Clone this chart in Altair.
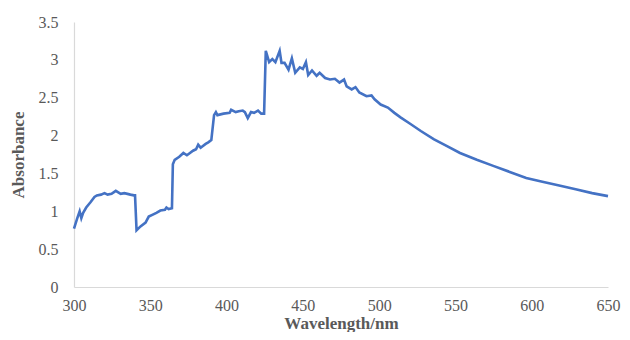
import altair as alt
import pandas as pd

wavelength = [300, 302, 303.7, 304.8, 306, 308, 310.8, 313.4, 315, 317.7, 320, 322, 324.6, 327.4,
              330.6, 333, 335, 337, 339.3, 340, 341, 343.6, 346.9, 349, 352, 354, 356.6, 359.6,
              360.6, 362, 364.2, 364.8, 366, 369, 371.7, 374, 376, 378, 380, 381.4, 383, 386.3,
              388, 390, 391.8, 393, 394, 398, 402, 403, 406, 408, 410.6, 412, 413.9, 416, 418,
              420.6, 422.7, 424.6, 425.7, 427.9, 430, 432, 434.8, 436, 438, 440.6, 442.8, 445,
              448, 450, 452, 453.5, 456, 459, 461, 464.6, 467.8, 471, 474, 477, 478.7, 482,
              484.5, 487, 491.7, 495, 497, 501, 505.7, 510, 514, 520.8, 527.3, 536, 544.5, 553,
              564, 574.8, 585.6, 596.4, 607, 618, 628.8, 639.6, 650]
absorbance = [0.77, 0.90, 1.00, 0.91, 0.98, 1.05, 1.12, 1.19, 1.21, 1.22, 1.24, 1.22, 1.23, 1.27,
              1.23, 1.24, 1.23, 1.22, 1.21, 1.21, 0.75, 0.80, 0.85, 0.93, 0.96, 0.98, 1.01, 1.02,
              1.05, 1.03, 1.04, 1.62, 1.68, 1.72, 1.77, 1.74, 1.77, 1.80, 1.82, 1.88, 1.84, 1.89,
              1.91, 1.94, 2.27, 2.31, 2.27, 2.29, 2.30, 2.34, 2.31, 2.32, 2.33, 2.31, 2.23, 2.31,
              2.30, 2.33, 2.29, 2.29, 3.12, 2.97, 3.01, 2.97, 3.12, 2.96, 2.96, 2.87, 3.02, 2.83,
              2.90, 2.88, 2.97, 2.80, 2.86, 2.79, 2.83, 2.76, 2.74, 2.75, 2.70, 2.74, 2.65, 2.61,
              2.64, 2.57, 2.52, 2.53, 2.48, 2.41, 2.37, 2.30, 2.24, 2.15, 2.06, 1.95, 1.86, 1.77,
              1.68, 1.60, 1.52, 1.44, 1.39, 1.34, 1.29, 1.24, 1.20]
x_ticks = [300, 350, 400, 450, 500, 550, 600, 650]
y_ticks = [0, 0.5, 1, 1.5, 2, 2.5, 3, 3.5]

df = pd.DataFrame({"wl": wavelength, "abs": absorbance, "i": list(range(len(wavelength)))})

font = "Liberation Serif"
chart = alt.Chart(df).mark_line(color="#4472C4", strokeWidth=2.6).encode(
    x=alt.X("wl:Q", scale=alt.Scale(domain=[300, 650], nice=False, zero=False),
            axis=alt.Axis(title="Wavelength/nm", values=x_ticks, labelFlush=False,
                          grid=False, ticks=False, domainColor="#d9d9d9", domainWidth=1.2,
                          labelFont=font, labelFontSize=16, labelColor="#595959", labelPadding=10,
                          titleFont=font, titleFontSize=17, titleFontWeight="bold",
                          titleColor="#595959", titlePadding=2)),
    y=alt.Y("abs:Q", scale=alt.Scale(domain=[0, 3.5], nice=False),
            axis=alt.Axis(title="Absorbance", values=y_ticks, format="~g", labelFlush=False,
                          grid=False, ticks=False, domainColor="#d9d9d9", domainWidth=1.2,
                          labelFont=font, labelFontSize=16, labelColor="#595959", labelPadding=16,
                          titleFont=font, titleFontSize=17, titleFontWeight="bold",
                          titleColor="#595959", titlePadding=11)),
    order="i:Q",
).properties(
    width=534, height=265,
    autosize=alt.AutoSizeParams(type="none"),
    padding={"left": 66, "top": 14, "right": 14, "bottom": 45},
).configure_view(stroke=None)

chart.save("out.html", embed_options={"renderer": "svg", "actions": False})
